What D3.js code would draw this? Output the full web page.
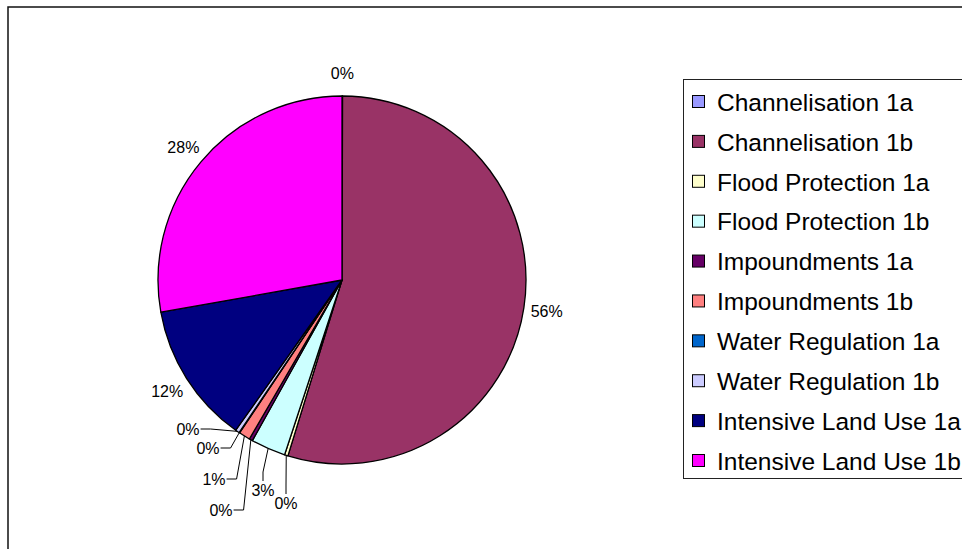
<!DOCTYPE html>
<html>
<head>
<meta charset="utf-8">
<script src="https://cdn.jsdelivr.net/npm/d3@7"></script>
<style>
  body { margin: 0; background: #fff; }
  svg { display: block; font-family: "Liberation Sans", Arial, sans-serif; }
</style>
</head>
<body>
<svg></svg>
<script>
// data
let categories = [
  "Channelisation 1a",
  "Channelisation 1b",
  "Flood Protection 1a",
  "Flood Protection 1b",
  "Impoundments 1a",
  "Impoundments 1b",
  "Water Regulation 1a",
  "Water Regulation 1b",
  "Intensive Land Use 1a",
  "Intensive Land Use 1b",
];
let shares = [0.05, 54.7, 0.3, 3.05, 0.3, 1.0, 0.05, 0.35, 12.4, 27.8];
let pctLabels = ["0%", "56%", "0%", "3%", "0%", "1%", "0%", "0%", "12%", "28%"];
let colors = [
  "#9999ff", "#993366", "#ffffcc", "#ccffff", "#660066",
  "#ff8080", "#0066cc", "#ccccff", "#000080", "#ff00ff",
];

let W = 962,
  H = 549;

let svg = d3.select("svg").attr("width", W).attr("height", H);

let aux = {
  cx: 342,
  cy: 280,
  r: 184,
  labelR: 207,
};

// labels Excel pushed out with leader lines (offset from pie centre)
let leaderSpots = {
  "Flood Protection 1a": { dx: -56, dy: 223, hook: "up" },
  "Flood Protection 1b": { dx: -79, dy: 210, hook: "up" },
  "Impoundments 1a": { dx: -121, dy: 230, hook: "side" },
  "Impoundments 1b": { dx: -128, dy: 199, hook: "side" },
  "Water Regulation 1a": { dx: -134, dy: 168, hook: "side" },
  "Water Regulation 1b": { dx: -154, dy: 149, hook: "side" },
};

// outer chart frame
svg
  .append("rect")
  .attr("x", 8)
  .attr("y", 7)
  .attr("width", W + 20)
  .attr("height", H + 20)
  .attr("fill", "none")
  .attr("stroke", "#111")
  .attr("stroke-width", 1.5);

let rows = categories.map((c, i) => ({ name: c, value: shares[i], label: pctLabels[i], color: colors[i] }));

let pie = d3.pie().sort(null).value((d) => d.value);
let arcs = pie(rows);

let arc = d3.arc().innerRadius(0).outerRadius(aux.r);

let g = svg.append("g").attr("transform", `translate(${aux.cx},${aux.cy})`);

g.selectAll("path.slice")
  .data(arcs)
  .join("path")
  .attr("class", "slice")
  .attr("d", arc)
  .attr("fill", (d) => d.data.color)
  .attr("stroke", "#000")
  .attr("stroke-width", 1.3)
  .attr("stroke-linejoin", "round");

function polar(a, r) {
  return [r * Math.sin(a), -r * Math.cos(a)];
}

let labels = g
  .selectAll("text.pct")
  .data(arcs)
  .join("text")
  .attr("class", "pct")
  .attr("font-size", 16)
  .attr("fill", "#000")
  .attr("text-anchor", "middle")
  .attr("dy", "0.36em")
  .text((d) => d.data.label)
  .each(function (d) {
    let spot = leaderSpots[d.data.name];
    let p = spot ? [spot.dx, spot.dy] : polar((d.startAngle + d.endAngle) / 2, aux.labelR);
    d3.select(this).attr("x", p[0]).attr("y", p[1]);
    d.lab = p;
    d.w = this.getComputedTextLength();
  });

// leader lines from the label to the edge of its slice
g.selectAll("path.leader")
  .data(arcs.filter((d) => leaderSpots[d.data.name]))
  .join("path")
  .attr("class", "leader")
  .attr("fill", "none")
  .attr("stroke", "#000")
  .attr("stroke-width", 1)
  .attr("d", (d) => {
    let spot = leaderSpots[d.data.name];
    let edge = polar((d.startAngle + d.endAngle) / 2, aux.r);
    let [x, y] = d.lab;
    let pts;
    if (spot.hook == "side") {
      pts = [[x + d.w / 2 + 1, y], [x + d.w / 2 + 11, y], edge];
    } else {
      pts = [[x, y - 9], [x, y - 18], edge];
    }
    return d3.line()(pts);
  });

// legend
let leg = svg.append("g");

leg
  .append("rect")
  .attr("x", 683.5)
  .attr("y", 79.5)
  .attr("width", 320)
  .attr("height", 399)
  .attr("fill", "#fff")
  .attr("stroke", "#222")
  .attr("stroke-width", 1);

let ly = d3.scalePoint().domain(categories).range([102, 461]);

let items = leg
  .selectAll("g.item")
  .data(rows)
  .join("g")
  .attr("class", "item")
  .attr("transform", (d) => `translate(0,${ly(d.name)})`);

items
  .append("rect")
  .attr("x", 692.5)
  .attr("y", -6.5)
  .attr("width", 12)
  .attr("height", 12)
  .attr("fill", (d) => d.color)
  .attr("stroke", "#000")
  .attr("stroke-width", 1);

items
  .append("text")
  .attr("x", 717)
  .attr("dy", "0.36em")
  .attr("font-size", 24.5)
  .attr("fill", "#000")
  .text((d) => d.name);
</script>
</body>
</html>
